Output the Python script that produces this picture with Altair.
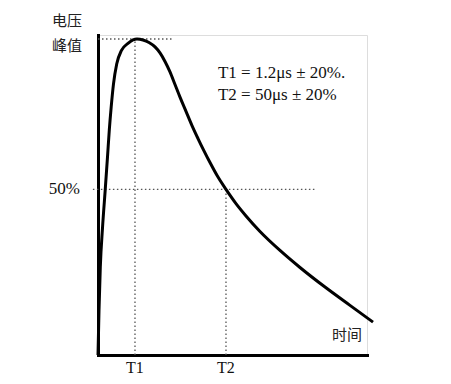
import altair as alt
import pandas as pd

# Impulse waveform (time in arbitrary units 0..100, voltage normalised to peak = 1)
time_vals = [0, 0.372, 0.855, 1.673, 2.677, 3.532, 4.201, 4.907, 5.762, 6.952, 8.736,
             11.152, 13.011, 14.498,
             16.729, 18.959, 21.190, 23.048, 24.907, 26.766, 28.625, 30.483, 32.714,
             34.944, 37.175, 39.405, 41.636, 44.610, 47.584, 51.301, 55.019, 60.223,
             67.658, 75.093, 84.387, 93.680, 102.230]
volt_vals = [0, 0.142, 0.278, 0.402, 0.522, 0.627, 0.712, 0.785, 0.858, 0.921, 0.964,
             0.986, 0.997, 1.000,
             0.997, 0.989, 0.975, 0.956, 0.929, 0.896, 0.856, 0.816, 0.771,
             0.726, 0.685, 0.646, 0.609, 0.563, 0.524, 0.479, 0.440, 0.391,
             0.331, 0.277, 0.215, 0.157, 0.104]

T1 = 13.75
T2 = 47.58
PEAK = 1.0
HALF = 0.524

guide_x = [0, T1, -1.9, T2]
guide_x2 = [27.9, T1, 80.7, T2]
guide_y = [PEAK, 0, HALF, 0]
guide_y2 = [PEAK, PEAK, HALF, HALF]

formula_lines = ["T1 = 1.2μs ± 20%.", "T2 = 50μs ± 20%"]
formula_y = [0.877, 0.807]
formula_x = 44.6

tick_names = ["T1", "T2"]
tick_pos = [T1, T2]

curve = pd.DataFrame({"t": time_vals, "v": volt_vals})
guides = pd.DataFrame({"x": guide_x, "x2": guide_x2, "y": guide_y, "y2": guide_y2})
formulas = pd.DataFrame({"x": [formula_x] * 2, "y": formula_y, "txt": formula_lines})
ticks = pd.DataFrame({"x": tick_pos, "y": [0, 0], "txt": tick_names})
ylab_top = pd.DataFrame({"x": [0], "y": [PEAK], "txt": ["电压"]})
ylab_peak = pd.DataFrame({"x": [0], "y": [PEAK], "txt": ["峰值"]})
half_lab = pd.DataFrame({"x": [0], "y": [HALF], "txt": ["50%"]})
xlab = pd.DataFrame({"x": [92.6], "y": [0.063], "txt": ["时间"]})

xs = alt.Scale(domain=[0, 100], nice=False, zero=False)
ys = alt.Scale(domain=[0, 1.0127], nice=False, zero=False)

axis_style = dict(domain=True, domainColor="#000", domainWidth=3, domainCap="square",
                  ticks=False, labels=False, grid=False, title=None)

base_curve = alt.Chart(curve).mark_line(
    color="#000", strokeWidth=3, interpolate="monotone", clip=False
).encode(
    x=alt.X("t:Q", scale=xs, axis=alt.Axis(**axis_style)),
    y=alt.Y("v:Q", scale=ys, axis=alt.Axis(**axis_style)),
)

guide_layer = alt.Chart(guides).mark_rule(
    color="#555", strokeWidth=1.3, strokeDash=[1.5, 2.5], clip=False
).encode(
    x=alt.X("x:Q", scale=xs), x2="x2:Q",
    y=alt.Y("y:Q", scale=ys), y2="y2:Q",
)

formula_layer = alt.Chart(formulas).mark_text(
    font="Liberation Serif", fontSize=17, align="left", baseline="alphabetic", color="#111"
).encode(x=alt.X("x:Q", scale=xs), y=alt.Y("y:Q", scale=ys), text="txt:N")

tick_layer = alt.Chart(ticks).mark_text(
    font="Liberation Serif", fontSize=16, align="center", baseline="middle", dy=13, color="#111"
).encode(x=alt.X("x:Q", scale=xs), y=alt.Y("y:Q", scale=ys), text="txt:N")

ylab_top_layer = alt.Chart(ylab_top).mark_text(
    font="Noto Sans CJK SC", fontSize=15, align="right", baseline="middle",
    dx=-16, dy=-18, color="#222"
).encode(x=alt.X("x:Q", scale=xs), y=alt.Y("y:Q", scale=ys), text="txt:N")

ylab_peak_layer = alt.Chart(ylab_peak).mark_text(
    font="Noto Sans CJK SC", fontSize=15, align="right", baseline="middle",
    dx=-16, dy=7, color="#222"
).encode(x=alt.X("x:Q", scale=xs), y=alt.Y("y:Q", scale=ys), text="txt:N")

half_layer = alt.Chart(half_lab).mark_text(
    font="Liberation Serif", fontSize=17, align="right", baseline="middle", dx=-18, color="#111"
).encode(x=alt.X("x:Q", scale=xs), y=alt.Y("y:Q", scale=ys), text="txt:N")

xlab_layer = alt.Chart(xlab).mark_text(
    font="Noto Sans CJK SC", fontSize=15, align="center", baseline="middle", color="#222"
).encode(x=alt.X("x:Q", scale=xs), y=alt.Y("y:Q", scale=ys), text="txt:N")

chart = alt.layer(
    guide_layer, base_curve, formula_layer, tick_layer, ylab_top_layer, ylab_peak_layer,
    half_layer, xlab_layer
).properties(
    width=269, height=320,
    autosize=alt.AutoSizeParams(type="none"),
    padding={"left": 90, "top": 27, "right": 76, "bottom": 21},
).configure_view(stroke=None).configure(background="white")

chart.save("out.html", embed_options={"renderer": "svg", "actions": False})
